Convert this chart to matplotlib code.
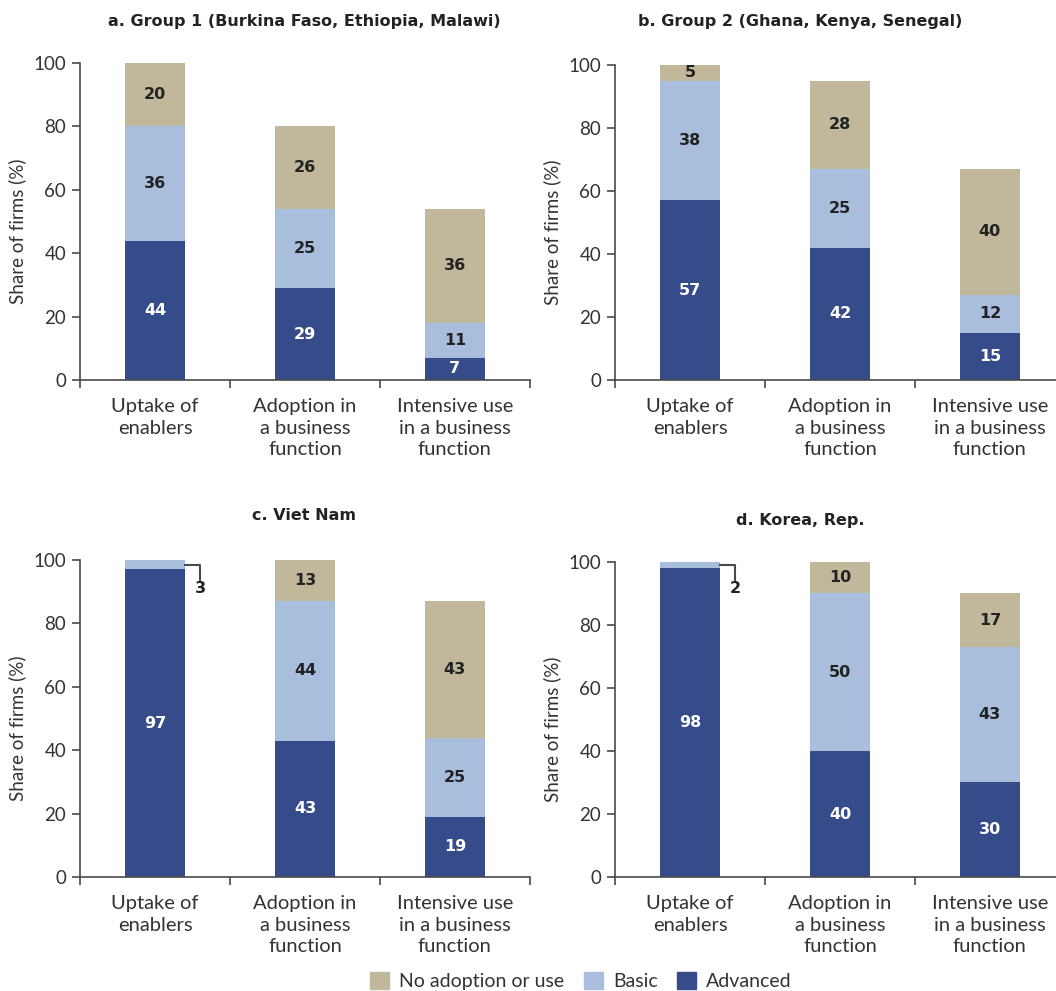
import numpy as np
import matplotlib
matplotlib.use("Agg")
import matplotlib.pyplot as plt
from matplotlib.patches import Patch

plt.rcParams["font.family"] = ["Lato", "DejaVu Sans"]
BOLD_FONT = ["DejaVu Sans"]

# ── 数据 ──
categories = ["Uptake of\nenablers", "Adoption in\na business\nfunction", "Intensive use\nin a business\nfunction"]
titles = ["a. Group 1 (Burkina Faso, Ethiopia, Malawi)", "b. Group 2 (Ghana, Kenya, Senegal)",
          "c. Viet Nam", "d. Korea, Rep."]
advanced = [[44, 29, 7], [57, 42, 15], [97, 43, 19], [98, 40, 30]]
basic = [[36, 25, 11], [38, 25, 12], [3, 44, 25], [2, 50, 43]]
no_adoption = [[20, 26, 36], [5, 28, 40], [0, 13, 43], [0, 10, 17]]

ADV_COLOR = "#364c8a"
BASIC_COLOR = "#a9bddc"
NONE_COLOR = "#c1b89b"
AXIS_COLOR = "#4a4a4a"
TEXT_DARK = "#222222"

fig = plt.figure(figsize=(10.56, 9.91), dpi=100)

# axes positions (left, bottom, width, height) in figure fraction
positions = [
    (0.0758, 0.6165, 0.426, 0.320),
    (0.5824, 0.6165, 0.426, 0.318),
    (0.0758, 0.1150, 0.426, 0.320),
    (0.5824, 0.1150, 0.426, 0.318),
]
title_xy = [(0.288, 0.978), (0.758, 0.978), (0.288, 0.480), (0.758, 0.475)]

x = np.arange(len(categories))
width = 0.4
num_kw = dict(ha="center", va="center", fontsize=11.5, fontweight="bold", family=BOLD_FONT)

for i, pos in enumerate(positions):
    ax = fig.add_axes(pos)
    adv = np.array(advanced[i])
    bas = np.array(basic[i])
    non = np.array(no_adoption[i])

    ax.bar(x, adv, width, color=ADV_COLOR)
    ax.bar(x, bas, width, bottom=adv, color=BASIC_COLOR)
    ax.bar(x, non, width, bottom=adv + bas, color=NONE_COLOR)

    for j in range(len(x)):
        ax.text(x[j], adv[j] / 2, str(adv[j]), color="white", **num_kw)
        if bas[j] >= 5:
            ax.text(x[j], adv[j] + bas[j] / 2, str(bas[j]), color=TEXT_DARK, **num_kw)
        elif bas[j] > 0:
            # 小数值用折线引出标注
            y0 = adv[j] + bas[j] / 2
            xr = x[j] + width / 2
            ax.plot([xr, xr + 0.1, xr + 0.1], [y0, y0, y0 - 5],
                    color=AXIS_COLOR, lw=1.5, clip_on=False)
            ax.text(xr + 0.1, y0 - 7.5, str(bas[j]), color=TEXT_DARK, **num_kw)
        if non[j] > 0:
            ax.text(x[j], adv[j] + bas[j] + non[j] / 2, str(non[j]), color=TEXT_DARK, **num_kw)

    ax.set_xlim(-0.5, 2.5)
    ax.set_ylim(0, 100)
    ax.set_yticks(range(0, 101, 20))
    ax.set_xticks(x)
    ax.set_xticklabels(categories, fontsize=14.5, color="#333333", linespacing=1.32)
    ax.set_xticks([-0.5, 0.5, 1.5, 2.5], minor=True)
    ax.tick_params(axis="x", which="major", length=0, pad=13)
    ax.tick_params(axis="x", which="minor", length=6, width=1.2, color=AXIS_COLOR)
    ax.tick_params(axis="y", length=6, width=1.2, color=AXIS_COLOR, labelsize=13.5,
                   labelcolor="#333333", pad=4)
    for side in ["top", "right"]:
        ax.spines[side].set_visible(False)
    for side in ["left", "bottom"]:
        ax.spines[side].set_color(AXIS_COLOR)
        ax.spines[side].set_linewidth(1.2)
    ax.set_ylabel("Share of firms (%)", fontsize=13.5, color="#333333")
    ax.yaxis.set_label_coords(-0.12, 0.47)

    fig.text(title_xy[i][0], title_xy[i][1], titles[i], ha="center", va="center",
             fontsize=11.5, fontweight="bold", color=TEXT_DARK, family=BOLD_FONT)

handles = [Patch(color=NONE_COLOR, label="No adoption or use"),
           Patch(color=BASIC_COLOR, label="Basic"),
           Patch(color=ADV_COLOR, label="Advanced")]
fig.legend(handles=handles, loc="center", bbox_to_anchor=(0.55, 0.01), ncol=3,
           frameon=False, fontsize=14, handlelength=1.0, handleheight=1.0,
           handletextpad=0.5, columnspacing=1.0, labelcolor="#333333")

fig.savefig("out.png", dpi=100)
